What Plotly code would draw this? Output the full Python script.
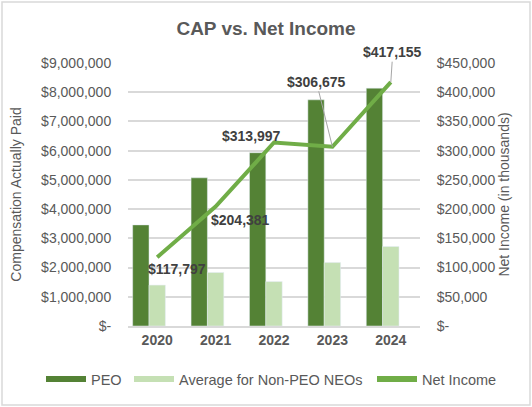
import plotly.graph_objects as go

years = ['2020', '2021', '2022', '2023', '2024']
peo_cap = [3460000, 5070000, 5930000, 7740000, 8140000]
neo_cap = [1400000, 1830000, 1520000, 2170000, 2720000]
net_income = [117797, 204381, 313997, 306675, 417155]

left_ticks = [0, 1000000, 2000000, 3000000, 4000000, 5000000, 6000000, 7000000, 8000000, 9000000]
right_ticks = [0, 50000, 100000, 150000, 200000, 250000, 300000, 350000, 400000, 450000]


def money(v):
    return '$-' if v == 0 else f'${v:,.0f}'


dark_green = '#548235'
light_green = '#c5e0b4'
line_green = '#70ad47'
grey_txt = '#595959'
font = 'Liberation Sans, Arial, sans-serif'

# plot area in pixels
L, R, T, B = 128, 420, 63, 326
W, H = R - L, B - T

fig = go.Figure()
# the original's bar pairs sit a little left of the category centre
fig.add_trace(go.Bar(x=years, y=peo_cap, name='PEO', marker_color=dark_green, showlegend=False,
                     width=0.28, offset=-0.42))
fig.add_trace(go.Bar(x=years, y=neo_cap, name='Average for Non-PEO NEOs', marker_color=light_green,
                     showlegend=False, width=0.28, offset=-0.14))
fig.add_trace(go.Scatter(x=years, y=net_income, name='Net Income', mode='lines', yaxis='y2',
                         line=dict(color=line_green, width=4), showlegend=False))

# legend entries drawn as thick strokes like the original, one legend box each
legend_items = [('PEO', dark_green, 'legend', 41), ('Average for Non-PEO NEOs', light_green, 'legend2', 129),
                ('Net Income', line_green, 'legend3', 372)]
for nm, col, lg, _ in legend_items:
    fig.add_trace(go.Scatter(x=years, y=[None] * len(years), mode='lines', name=nm, legend=lg,
                             line=dict(color=col, width=6), hoverinfo='skip'))

# data labels (offsets in px from the point, y up)
offsets = [(20, -12, False), (25, -13, False), (-23, 6, False), (-16, -65, True), (2, -30, True)]
for i, (val, (dx, dy, arrow)) in enumerate(zip(net_income, offsets)):
    lab_font = dict(family=font, size=14, color='#404040', weight='bold')
    if arrow:
        fig.add_annotation(x=i, y=val, xref='x', yref='y2', text=money(val), showarrow=True,
                           ax=dx, ay=dy, arrowhead=0, arrowwidth=1, arrowcolor='#a6a6a6', standoff=0,
                           font=lab_font)
    else:
        fig.add_annotation(x=i, y=val, xref='x', yref='y2', text=money(val), showarrow=False,
                           xshift=dx, yshift=dy, font=lab_font)

# outer chart border
fig.add_shape(type='rect', xref='paper', yref='paper', x0=(2 - L) / W, x1=(530 - L) / W,
              y0=(B - 405) / H, y1=(B - 2) / H, line=dict(color='#d9d9d9', width=1.5))

legend_base = dict(orientation='h', xanchor='left', y=(B - 379) / H, yanchor='middle', itemwidth=40,
                   font=dict(size=14.5, color=grey_txt), bgcolor='rgba(0,0,0,0)')

fig.update_layout(
    width=532, height=407,
    margin=dict(l=L, r=532 - R, t=T, b=407 - B),
    paper_bgcolor='white', plot_bgcolor='white',
    font=dict(family=font, size=14, color=grey_txt),
    title=dict(text='<b>CAP vs. Net Income</b>', x=0.5, xanchor='center', y=1 - 28 / 407, yanchor='middle',
               font=dict(size=19, color=grey_txt)),
    barmode='group',
    xaxis=dict(type='category', range=[-0.5, 4.5], showline=True, linecolor='#d9d9d9', linewidth=1.5,
               tickfont=dict(size=14, color=grey_txt, weight='bold'), ticks='', automargin=False),
    yaxis=dict(range=[0, 9000000], tickvals=left_ticks, ticktext=[money(v) for v in left_ticks],
               gridcolor='#d9d9d9', gridwidth=1.5, zeroline=False, automargin=False,
               ticks='outside', ticklen=13, tickcolor='rgba(0,0,0,0)',
               title=dict(text='Compensation Actually Paid', font=dict(size=14, color=grey_txt), standoff=16)),
    yaxis2=dict(range=[0, 450000], tickvals=right_ticks, ticktext=[money(v) for v in right_ticks],
                overlaying='y', side='right', showgrid=False, zeroline=False, automargin=False,
                ticks='outside', ticklen=13, tickcolor='rgba(0,0,0,0)',
                title=dict(text='Net Income (in thousands)', font=dict(size=14, color=grey_txt), standoff=4)),
    legend=dict(legend_base, x=(legend_items[0][3] - L) / W),
    legend2=dict(legend_base, x=(legend_items[1][3] - L) / W),
    legend3=dict(legend_base, x=(legend_items[2][3] - L) / W),
)

# drop the browser's default 8px body margin so the chart sits at the window corner
fig.write_html('out.html', config={'displayModeBar': False},
               post_script="document.body.style.margin='0';")
